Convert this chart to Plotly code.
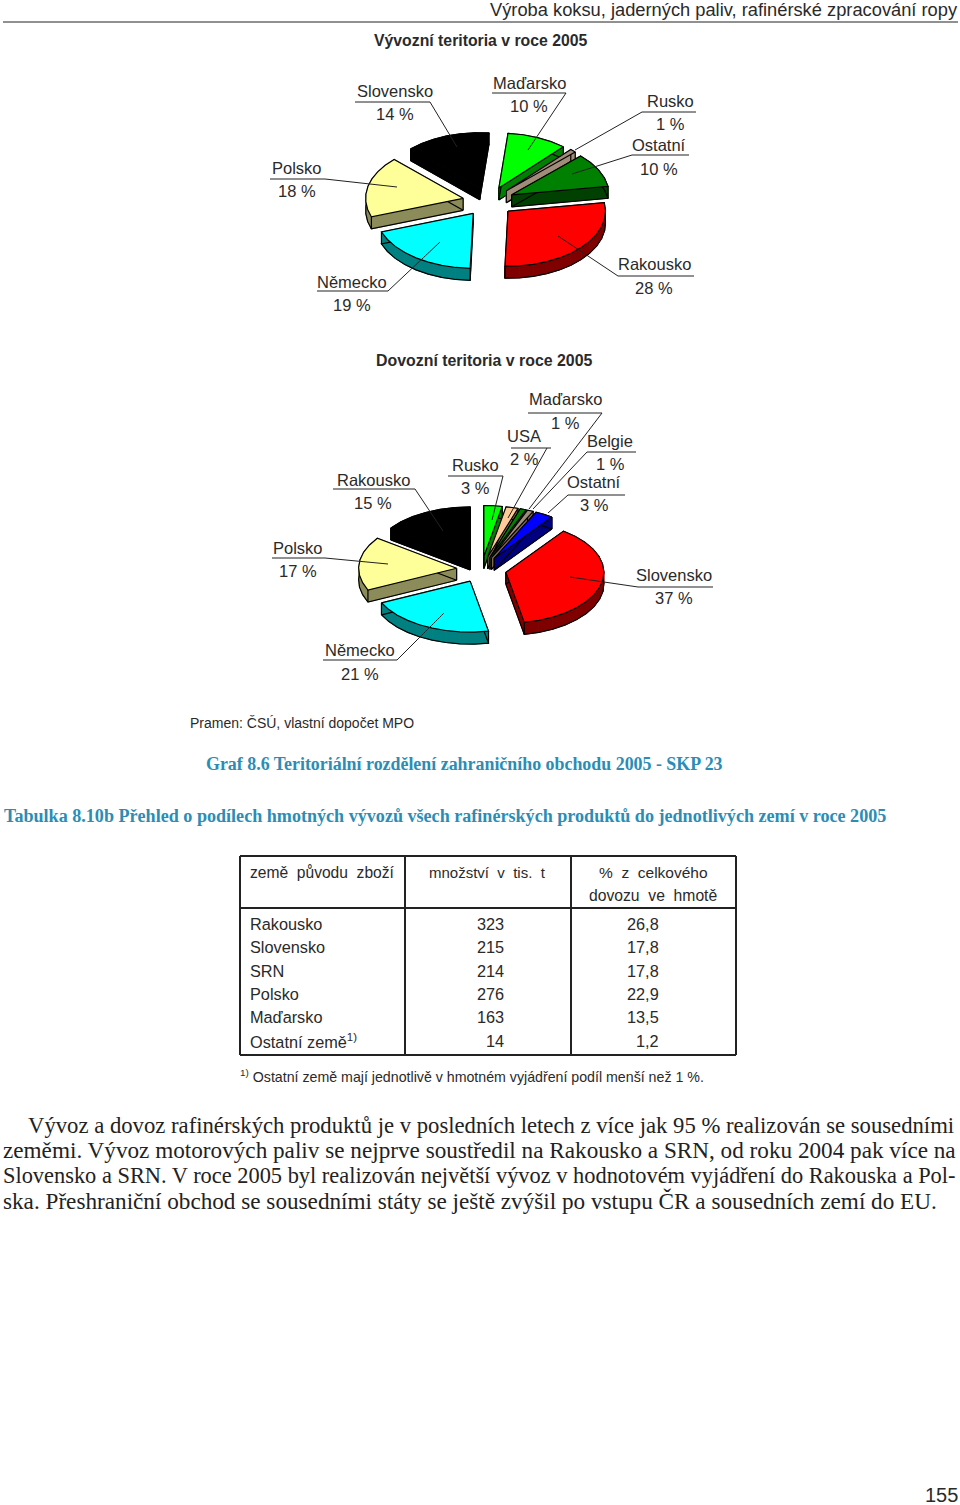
import numpy as np
import plotly.graph_objects as go

# ---------- data ----------
export_countries = ["Rakousko", "Německo", "Polsko", "Slovensko", "Maďarsko", "Rusko", "Ostatní"]
export_values = [28, 19, 18, 14, 10, 1, 10]
import_countries = ["Slovensko", "Německo", "Polsko", "Rakousko", "Rusko", "USA", "Maďarsko", "Belgie", "Ostatní"]
import_values = [37, 21, 17, 15, 3, 2, 1, 1, 3]
table_countries = ["Rakousko", "Slovensko", "SRN", "Polsko", "Maďarsko", "Ostatní země<sup>1)</sup>"]
table_amounts = ["323", "215", "214", "276", "163", "14"]
table_shares = ["26,8", "17,8", "17,8", "22,9", "13,5", "1,2"]

# ---------- styles ----------
export_top = ["#ff0000", "#00ffff", "#ffff99", "#000000", "#00ff00", "#a08c78", "#008000"]
export_side = ["#800000", "#008080", "#8c8c5a", "#000000", "#008000", "#a08c78", "#004000"]
import_top = ["#ff0000", "#00ffff", "#ffff99", "#000000", "#00ff00", "#ffcc99", "#008000", "#a08c78", "#0000ff"]
import_side = ["#800000", "#008080", "#8c8c5a", "#000000", "#008000", "#806650", "#004000", "#806650", "#000080"]
SANS = "Liberation Sans"
SERIF = "Liberation Serif"
BLUE = "#2b8db5"
INK = "#2a2a2a"

fig = go.Figure()


def draw_pie(names, values, tops, sides, cx, cy, rx, ry, pull, depth, start):
    total = sum(values)
    spans = [v / total * 360 for v in values]
    wedges = []
    a = start
    for n, s, t, d in zip(names, spans, tops, sides):
        a0, a1 = a, a - s
        a = a1
        mid = np.radians((a0 + a1) / 2)
        ax = cx + pull * np.cos(mid)
        ay = cy - pull * ry / rx * np.sin(mid)
        th = np.radians(np.linspace(a0, a1, max(2, int(np.ceil(s / 9))) + 1))
        px = np.r_[ax, ax + rx * np.cos(th), ax]
        py = np.r_[ay, ay - ry * np.sin(th), ay]
        wedges.append((ay, n, px, py, t, d))
    for _, n, px, py, t, d in sorted(wedges, key=lambda w: w[0]):
        for i in range(len(px) - 1):
            fig.add_trace(go.Scatter(
                x=[px[i], px[i + 1], px[i + 1], px[i], px[i]],
                y=[py[i], py[i + 1], py[i + 1] + depth, py[i] + depth, py[i]],
                mode="lines", fill="toself", fillcolor=d, line=dict(color=d, width=1), hoverinfo="skip"))
        ex = list(px) + [None]
        ey = list(py + depth) + [None]
        for i in (0, 1, len(px) - 2):
            ex += [px[i], px[i], None]
            ey += [py[i], py[i] + depth, None]
        fig.add_trace(go.Scatter(x=ex, y=ey, mode="lines", line=dict(color="#000000", width=1.2),
                                 hoverinfo="skip"))
        fig.add_trace(go.Scatter(x=px, y=py, mode="lines", fill="toself", fillcolor=t,
                                 line=dict(color="#000000", width=1.2), name=n, hoverinfo="name"))


draw_pie(export_countries, export_values, export_top, export_side, 488.5, 201.5, 97.5, 55, 26, 12, 9)
draw_pie(import_countries, import_values, import_top, import_side, 481.5, 569.5, 98, 51, 25, 12, 54)

annotations = []


def text(x, y, s, size=16, font=SANS, color=INK, anchor="center", bold=False):
    if bold:
        s = "<b>" + s + "</b>"
    annotations.append(dict(x=x, y=y, xref="x", yref="y", text=s, showarrow=False, xanchor=anchor,
                            yanchor="middle", font=dict(family=font, size=size, color=color)))


# running head and titles
text(960, 9, "Výroba koksu, jaderných paliv, rafinérské zpracování ropy", 18.3, anchor="right")
text(481, 40, "Vývozní teritoria v roce 2005", 15.8, bold=True)
text(484, 360, "Dovozní teritoria v roce 2005", 15.9, bold=True)
text(188, 723, "Pramen: ČSÚ, vlastní dopočet MPO", 14, anchor="left")
text(464, 764, "Graf 8.6 Teritoriální rozdělení zahraničního obchodu 2005 - SKP 23", 17.9, SERIF, BLUE, bold=True)
text(2, 816, "Tabulka 8.10b Přehled o podílech hmotných vývozů všech rafinérských produktů do jednotlivých zemí v roce 2005",
     18.1, SERIF, BLUE, "left", True)

# pie labels: name, value, centre x, name y, value y
export_labels = [
    ("Polsko", 297, 168, 191), ("Slovensko", 395, 91, 114), ("Maďarsko", 529, 83, 106),
    ("Rusko", 670, 101, 124), ("Ostatní", 659, 145, 169), ("Rakousko", 654, 264, 288), ("Německo", 352, 282, 305),
]
import_labels = [
    ("Polsko", 298, 548, 571), ("Rakousko", 373, 480, 503), ("Rusko", 475, 465, 488), ("USA", 524, 436, 459),
    ("Maďarsko", 565, 399, 423), ("Belgie", 610, 441, 464), ("Ostatní", 594, 482, 505),
    ("Slovensko", 674, 575, 598), ("Německo", 360, 650, 674),
]
for names, vals, labels in ((export_countries, export_values, export_labels),
                            (import_countries, import_values, import_labels)):
    lookup = dict(zip(names, vals))
    for n, x, y1, y2 in labels:
        text(x, y1, n, 16.5)
        text(x, y2, f"{lookup[n]} %", 16.5)

# leader lines
leaders = [
    [(270, 179), (325, 179), (397, 187)], [(355, 102), (430, 102), (457, 147)], [(492, 93), (566, 93), (528, 150)],
    [(696, 112), (642, 112), (575, 150)], [(689, 155), (632, 155), (572, 174)], [(694, 276), (618, 276), (558, 236)],
    [(317, 291), (388, 291), (440, 242)],
    [(528, 413), (602, 413), (529, 509)], [(511, 448), (551, 448)], [(547, 448), (508, 518)],
    [(448, 476), (503, 476), (492, 520)], [(333, 489), (415, 489), (443, 531)], [(272, 558), (325, 558), (388, 564)],
    [(636, 452), (587, 452), (533, 509)], [(625, 495), (568, 495), (548, 513)], [(713, 587), (638, 587), (570, 577)],
    [(323, 660), (397, 660), (444, 613)],
]
shapes = []


def seg(x0, y0, x1, y1, w=1.0, c="#222222"):
    shapes.append(dict(type="line", xref="x", yref="y", x0=x0, y0=y0, x1=x1, y1=y1, line=dict(color=c, width=w)))


for pts in leaders:
    for (x0, y0), (x1, y1) in zip(pts, pts[1:]):
        seg(x0, y0, x1, y1)
seg(3, 22, 958, 22, 1.2)

# table frame
for a in ((240, 856, 736, 856), (240, 1055, 736, 1055), (240, 856, 240, 1055), (736, 856, 736, 1055),
          (405, 856, 405, 1055), (571, 856, 571, 1055), (240, 908, 736, 908)):
    seg(*a, w=2, c="#222222")

text(248, 872, "země  původu  zboží", 15.6, anchor="left")
text(487, 872, "množství  v  tis.  t", 15)
text(653, 872, "%  z  celkového", 15.5)
text(653, 895, "dovozu  ve  hmotě", 15.7)
row_y = [924, 947, 971, 994, 1017, 1041]
for yy, c, am, sh in zip(row_y, table_countries, table_amounts, table_shares):
    text(248, yy, c, 16.3, anchor="left")
    text(506, yy, am, 16.3, anchor="right")
    text(661, yy, sh, 16.3, anchor="right")
text(238, 1076, "<sup>1)</sup> Ostatní země mají jednotlivě v hmotném vyjádření podíl menší než 1 %.", 14.2, anchor="left")

# body text
body = [
    (26, 1125, 22.7, "Vývoz a dovoz rafinérských produktů je v posledních letech z více jak 95 % realizován se sousedními"),
    (1, 1150, 23.2, "zeměmi. Vývoz motorových paliv se nejprve soustředil na Rakousko a SRN, od roku 2004 pak více na"),
    (1, 1175, 22.4, "Slovensko a SRN. V roce 2005 byl realizován největší vývoz v hodnotovém vyjádření do Rakouska a Pol-"),
    (1, 1201, 23.2, "ska. Přeshraniční obchod se sousedními státy se ještě zvýšil po vstupu ČR a sousedních zemí do EU."),
]
for x, y, sz, s in body:
    text(x, y, s, sz, SERIF, "#222222", "left")
text(960, 1495, "155", 20, anchor="right")

fig.update_layout(
    width=960, height=1505, margin=dict(l=0, r=0, t=0, b=0), paper_bgcolor="white", plot_bgcolor="white",
    showlegend=False, annotations=annotations, shapes=shapes,
    xaxis=dict(range=[0, 960], visible=False, fixedrange=True),
    yaxis=dict(range=[1505, 0], visible=False, fixedrange=True),
)
fig.write_html("out.html", config=dict(displayModeBar=False),
               post_script="document.body.style.margin='0';document.documentElement.style.overflow='hidden';")
